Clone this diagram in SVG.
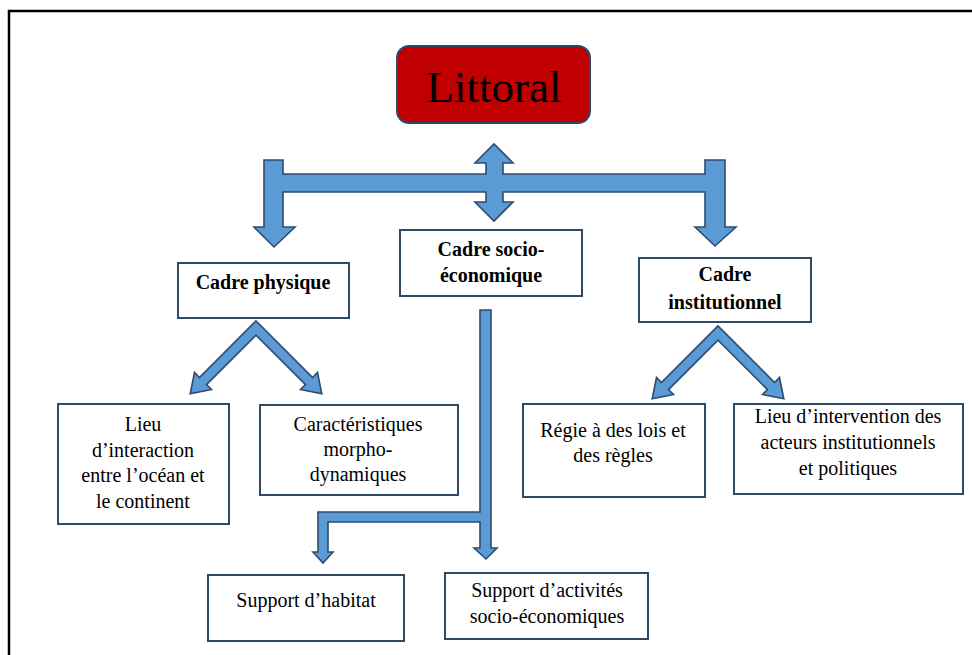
<svg xmlns="http://www.w3.org/2000/svg" width="972" height="655" viewBox="0 0 972 655">
<style>
.box{fill:#ffffff;stroke:#2F4A68;stroke-width:2}
.arrow{fill:#5B9BD5;stroke:#2F4B6E;stroke-width:1.6;stroke-linejoin:miter}
.t{font-family:"Liberation Serif","Times New Roman",serif;font-size:20px;fill:#000;text-anchor:middle}
.b{font-weight:bold}
</style>
<rect x="0" y="0" width="972" height="655" fill="#ffffff"/>
<rect x="9" y="11" width="990" height="700" fill="none" stroke="#000" stroke-width="2.5"/>
<g id="connectors">
<path class="arrow" d="M264,160 L283,160 L283,174 L486,174 L486,163 L475,163 L494,144 L513,163 L503,163 L503,174 L705,174 L705,160 L725,160 L725,227 L736,227 L715,246 L695,227 L705,227 L705,192 L503,192 L503,202 L513,202 L494,221 L475,202 L486,202 L486,192 L283,192 L283,227 L295,227 L274,247 L254,227 L264,227 Z"/>
<path class="arrow" transform="translate(256,328)" d="M0,-7.1 L-56.6,49.5 L-61.5,44.5 L-65.8,65.8 L-44.5,61.5 L-49.5,56.6 L0,7.1 L49.5,56.6 L44.5,61.5 L65.8,65.8 L61.5,44.5 L56.6,49.5 Z"/>
<path class="arrow" transform="translate(718,333)" d="M0,-7.1 L-56.6,49.5 L-61.5,44.5 L-65.8,65.8 L-44.5,61.5 L-49.5,56.6 L0,7.1 L49.5,56.6 L44.5,61.5 L65.8,65.8 L61.5,44.5 L56.6,49.5 Z"/>
<path class="arrow" d="M480,310 L491,310 L491,548 L497,548 L486,559 L474,548 L480,548 L480,522 L328,522 L328,552 L333,552 L323,563 L313,552 L318,552 L318,512 L480,512 Z"/>
</g>
<g id="littoral">
<rect x="397" y="46" width="193" height="77" rx="12" ry="12" fill="#C00000" stroke="#2F4A68" stroke-width="2"/>
<text class="t" x="494" y="102" style="font-size:45px">Littoral</text>
</g>
<g id="cadre-physique">
<rect class="box" x="178" y="263" width="171" height="55"/>
<text class="t b" x="263" y="289">Cadre physique</text>
</g>
<g id="cadre-socio">
<rect class="box" x="400" y="230" width="182" height="66"/>
<text class="t b" x="491" y="256">Cadre socio-</text>
<text class="t b" x="491" y="282">économique</text>
</g>
<g id="cadre-institutionnel">
<rect class="box" x="639" y="258" width="172" height="64"/>
<text class="t b" x="725" y="281">Cadre</text>
<text class="t b" x="725" y="309">institutionnel</text>
</g>
<g id="lieu-interaction">
<rect class="box" x="58" y="404" width="171" height="120"/>
<text class="t" x="143" y="431">Lieu</text>
<text class="t" x="143" y="457">d’interaction</text>
<text class="t" x="143" y="482">entre l’océan et</text>
<text class="t" x="143" y="508">le continent</text>
</g>
<g id="caracteristiques">
<rect class="box" x="260" y="405" width="198" height="90"/>
<text class="t" x="358" y="431">Caractéristiques</text>
<text class="t" x="358" y="456">morpho-</text>
<text class="t" x="358" y="481">dynamiques</text>
</g>
<g id="regie">
<rect class="box" x="523" y="404" width="182" height="93"/>
<text class="t" x="613" y="437">Régie à des lois et</text>
<text class="t" x="613" y="462">des règles</text>
</g>
<g id="lieu-intervention">
<rect class="box" x="734" y="404" width="229" height="90"/>
<text class="t" x="848" y="423">Lieu d’intervention des</text>
<text class="t" x="848" y="449">acteurs institutionnels</text>
<text class="t" x="848" y="475">et politiques</text>
</g>
<g id="support-habitat">
<rect class="box" x="208" y="575" width="196" height="66"/>
<text class="t" x="306" y="607">Support d’habitat</text>
</g>
<g id="support-activites">
<rect class="box" x="445" y="573" width="203" height="66"/>
<text class="t" x="547" y="597">Support d’activités</text>
<text class="t" x="547" y="623">socio-économiques</text>
</g>
</svg>
